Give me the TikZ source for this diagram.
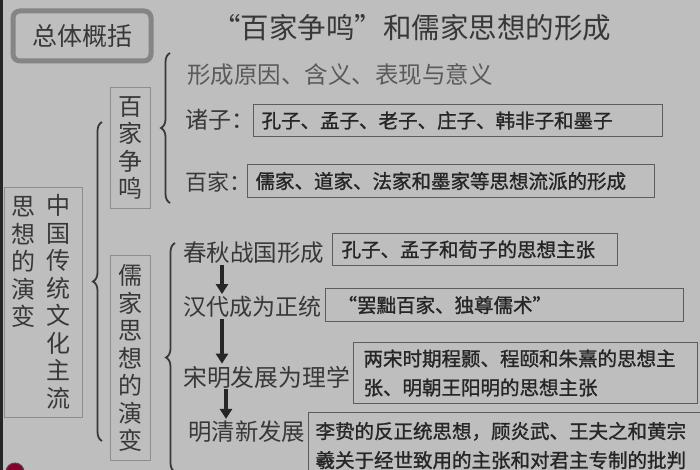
\documentclass[tikz,border=0pt]{standalone}
\usepackage{fontspec}
\setmainfont{Noto Sans CJK SC}[AutoFakeBold=1.2]
\usetikzlibrary{decorations.pathreplacing,arrows.meta}
\definecolor{bggray}{HTML}{BEBEBE}
\definecolor{inkgray}{HTML}{383838}
\definecolor{softgray}{HTML}{5A5A5A}
\definecolor{linegray}{HTML}{5C5C5C}
\definecolor{framegray}{HTML}{858585}

\begin{document}
\begin{tikzpicture}[x=1pt,y=-1pt,
  lbl/.style={anchor=west,inner sep=0pt,text=inkgray,font=\fontsize{23}{25}\selectfont},
  txtbox/.style={draw=linegray,line width=1.1pt,anchor=north west,align=left,
    inner xsep=8pt,inner ysep=0pt,text=black!85,font=\fontsize{19.5}{29}\selectfont\bfseries},
  vbox/.style={draw=linegray!70,line width=1pt,minimum width=40pt,align=center,
    inner sep=0pt,text=inkgray,font=\fontsize{24}{27.5}\selectfont},
  vtext/.style={align=center,inner sep=0pt,text=inkgray,font=\fontsize{24}{27.5}\selectfont},
  bracel/.style={decorate,decoration={brace,amplitude=9pt},line width=1.8pt,draw=inkgray},
  flow/.style={-{Triangle[width=12pt,length=10pt]},line width=3.2pt,draw=black!85,
    shorten <=1pt,shorten >=2pt}]
\useasboundingbox (0,0) rectangle (700,470);
\fill[bggray] (0,0) rectangle (700,470);
\fill[black!85] (0,0) rectangle (2.5,470);

% heading
\node (B0) at (82,36) [draw=framegray,line width=5pt,rounded corners=7pt,
  minimum width=138pt,minimum height=50pt,text=inkgray,
  font=\fontsize{25}{27}\selectfont] {总体概括};
\node (T0) at (212,28) [anchor=west,inner sep=0pt,text=inkgray,
  font=\fontsize{28.5}{30}\selectfont] {“百家争鸣”和儒家思想的形成};

% left column
\node (M0) at (43,302.5) [draw=linegray!70,line width=1pt,
  minimum width=78pt,minimum height=229pt] {};
\node (M1) at (24,262) [vtext] {思\\想\\的\\演\\变};
\node (M2) at (58,302) [vtext] {中\\国\\传\\统\\文\\化\\主\\流};
\draw[bracel] (102,441) -- (102,122);

\node (V1) at (130,148) [vbox,minimum height=120pt] {百\\家\\争\\鸣};
\node (V2) at (130,358) [vbox,minimum height=205pt] {儒\\家\\思\\想\\的\\演\\变};

% bai jia zheng ming
\draw[bracel] (170,203) -- (170,53);
\node (L0) at (187,75) [lbl,text=softgray,font=\fontsize{23.5}{25}\selectfont] {形成原因、含义、表现与意义};
\node (L1) at (185,120) [lbl] {诸子：};
\node (L2) at (185,182) [lbl,font=\fontsize{22}{24}\selectfont] {百家：};
\node (R1) at (253,104) [txtbox,text width=393pt,minimum height=32pt]
  {孔子、孟子、老子、庄子、韩非子和墨子};
\node (R2) at (247,164) [txtbox,text width=391pt,minimum height=33pt]
  {儒家、道家、法家和墨家等思想流派的形成};

% ru jia
\draw[bracel] (175,472) -- (175,243);
\node (C1) at (183,253) [lbl,font=\fontsize{23.5}{25}\selectfont] {春秋战国形成};
\node (C2) at (183,307) [lbl] {汉代成为正统};
\node (C3) at (183,377) [lbl,font=\fontsize{23.8}{25}\selectfont] {宋明发展为理学};
\node (C4) at (188,432) [lbl,font=\fontsize{23.4}{25}\selectfont] {明清新发展};

\node (S1) at (332,233) [txtbox,inner xsep=9pt,text width=267pt,minimum height=32pt]
  {孔子、孟子和荀子的思想主张};
\node (S2) at (325,288) [txtbox,inner xsep=12pt,text width=334pt,minimum height=33pt]
  {“罢黜百家、独尊儒术”};
\node (S3) at (353,342) [txtbox,inner xsep=10pt,text width=324pt,minimum height=61pt]
  {两宋时期程颢、程颐和朱熹的思想主\\张、明朝王阳明的思想主张};
\node (S4) at (308,412) [txtbox,inner xsep=7pt,inner ysep=4pt,text width=390pt,minimum height=66pt]
  {李贽的反正统思想，顾炎武、王夫之和黄宗\\羲关于经世致用的主张和对君主专制的批判};

\draw[flow] ([xshift=39pt]C1.south west) -- ([xshift=39pt]C2.north west);
\draw[flow] ([xshift=39pt]C2.south west) -- ([xshift=39pt]C3.north west);
\draw[flow] ([xshift=43pt]C3.south west) -- ([xshift=38pt]C4.north west);

\fill[purple!70!black,draw=black!70,line width=1pt] (15,472) circle (9);
\end{tikzpicture}
\end{document}
